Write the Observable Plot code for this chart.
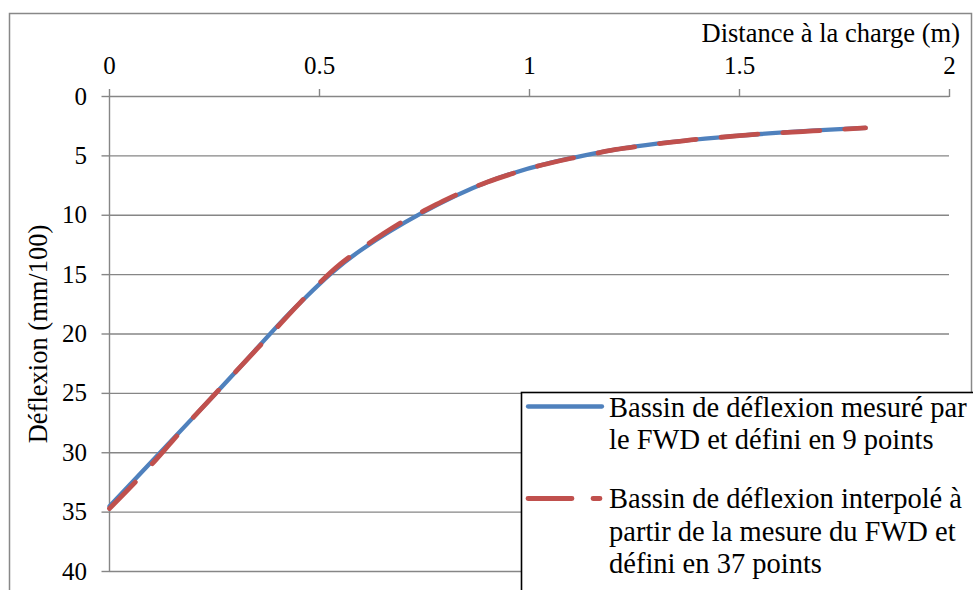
<!DOCTYPE html>
<html>
<head>
<meta charset="utf-8">
<script src="https://cdn.jsdelivr.net/npm/d3@7"></script>
<script src="https://cdn.jsdelivr.net/npm/@observablehq/plot@0.6"></script>
<style>
  html, body { margin: 0; padding: 0; background: #fff; }
  #chart { width: 973px; height: 590px; overflow: hidden; }
  #chart svg, #chart svg text { font-family: "Liberation Serif", "LiberationSerif", "Times New Roman", Times, "Nimbus Roman", "Nimbus Roman No9 L", FreeSerif, "Noto Serif", "DejaVu Serif", Tinos, Georgia, serif; }
</style>
</head>
<body>
<div id="chart"></div>
<script>
// Distance à la charge (m) — 9 FWD measurement points
const fwdDistance = [0, 0.2, 0.3, 0.45, 0.6, 0.9, 1.2, 1.5, 1.8];
const fwdDeflection = [34.5, 27.0, 23.2, 17.5, 12.9, 7.2, 4.5, 3.3, 2.65];

// Interpolated basin — 37 points every 0.05 m
const interpDistance = [0, 0.05, 0.1, 0.15, 0.2, 0.25, 0.3, 0.35, 0.4, 0.45, 0.5, 0.55, 0.6, 0.65, 0.7, 0.75, 0.8, 0.85, 0.9, 0.95, 1.0, 1.05, 1.1, 1.15, 1.2, 1.25, 1.3, 1.35, 1.4, 1.45, 1.5, 1.55, 1.6, 1.65, 1.7, 1.75, 1.8];
const interpDeflection = [34.7, 32.9, 31.0, 29.0, 27.0, 25.1, 23.2, 21.3, 19.4, 17.5, 15.7, 14.1, 12.8, 11.6, 10.5, 9.6, 8.7, 7.9, 7.2, 6.6, 6.05, 5.6, 5.2, 4.85, 4.5, 4.25, 4.0, 3.8, 3.6, 3.45, 3.3, 3.15, 3.05, 2.95, 2.85, 2.75, 2.65];

const xTicks = [0, 0.5, 1, 1.5, 2];
const xTickLabels = ["0", "0.5", "1", "1.5", "2"];
const yTicks = [0, 5, 10, 15, 20, 25, 30, 35, 40];
const yTickLabels = ["0", "5", "10", "15", "20", "25", "30", "35", "40"];

const xTitle = "Distance à la charge (m)";
const yTitle = "Déflexion (mm/100)";
const legendLabels = [
  ["Bassin de déflexion mesuré par", "le FWD et défini en 9 points"],
  ["Bassin de déflexion interpolé à", "partir de la mesure du FWD et", "défini en 37 points"]
];
const seriesColors = ["#4F81BD", "#C0504D"];

const fwd = fwdDistance.map((d, i) => ({x: d, y: fwdDeflection[i]}));
const interp = interpDistance.map((d, i) => ({x: d, y: interpDeflection[i]}));

const FONT = '"Liberation Serif", "Times New Roman", Times, "Nimbus Roman", FreeSerif, "Noto Serif", "DejaVu Serif", Tinos, Georgia, serif';
const GRID = "#868686";

const plot = Plot.plot({
  width: 973,
  height: 590,
  marginLeft: 109,
  marginRight: 24,
  marginTop: 96,
  marginBottom: 19,
  style: {fontFamily: FONT, background: "#fff", color: "#000", overflow: "visible"},
  x: {domain: [0, 2]},
  y: {domain: [0, 40], reverse: true},
  marks: [
    Plot.ruleY(yTicks, {stroke: GRID, strokeWidth: 1.4}),
    Plot.ruleX([0], {stroke: GRID, strokeWidth: 1.4}),
    Plot.axisX({
      anchor: "top", ticks: xTicks, tickFormat: (d) => xTickLabels[xTicks.indexOf(d)],
      tickSize: 8, tickPadding: 15, stroke: GRID, strokeWidth: 1.4, fill: "#000",
      fontSize: 25, label: null
    }),
    Plot.axisY({
      anchor: "left", ticks: yTicks, tickFormat: (d) => yTickLabels[yTicks.indexOf(d)],
      tickSize: 7.5, tickPadding: 15, stroke: GRID, strokeWidth: 1.4, fill: "#000",
      fontSize: 25, label: null
    }),
    Plot.line(fwd, {x: "x", y: "y", stroke: seriesColors[0], strokeWidth: 4.3,
      curve: "catmull-rom", strokeLinecap: "round"}),
    Plot.line(interp, {x: "x", y: "y", stroke: seriesColors[1], strokeWidth: 4.8,
      curve: "catmull-rom", strokeLinecap: "round", strokeDasharray: "37,25"})
  ]
});

document.getElementById("chart").appendChild(plot);

// Decorations: outer frame, axis titles, legend
const svg = d3.select(plot);
svg.insert("rect", ":first-child")
  .attr("x", 9.5).attr("y", 13.5).attr("width", 962).attr("height", 620)
  .attr("fill", "#fff").attr("stroke", "#888").attr("stroke-width", 1.5);

svg.append("text")
  .attr("x", 960).attr("y", 42).attr("text-anchor", "end")
  .attr("font-family", FONT).attr("font-size", 26.5).attr("fill", "#000")
  .text(xTitle);

svg.append("text")
  .attr("transform", "translate(47,334) rotate(-90)").attr("text-anchor", "middle")
  .attr("font-family", FONT).attr("font-size", 26.5).attr("fill", "#000")
  .text(yTitle);

const lg = svg.append("g");
lg.append("rect")
  .attr("x", 521.5).attr("y", 392.5).attr("width", 470).attr("height", 300)
  .attr("fill", "#fff").attr("stroke", "#000").attr("stroke-width", 1.6);
lg.append("line")
  .attr("x1", 528).attr("x2", 602).attr("y1", 406.5).attr("y2", 406.5)
  .attr("stroke", seriesColors[0]).attr("stroke-width", 4.3).attr("stroke-linecap", "round");
lg.append("line")
  .attr("x1", 528).attr("x2", 600).attr("y1", 498.5).attr("y2", 498.5)
  .attr("stroke", seriesColors[1]).attr("stroke-width", 4.8).attr("stroke-linecap", "round")
  .attr("stroke-dasharray", "44,21");
const baselines = [[416.5, 449], [508, 540.5, 573]];
legendLabels.forEach((lines, k) => {
  lines.forEach((t, j) => {
    lg.append("text")
      .attr("x", 609).attr("y", baselines[k][j]).attr("text-anchor", "start")
      .attr("font-family", FONT).attr("font-size", 28.5).attr("fill", "#000")
      .text(t);
  });
});
</script>
</body>
</html>
